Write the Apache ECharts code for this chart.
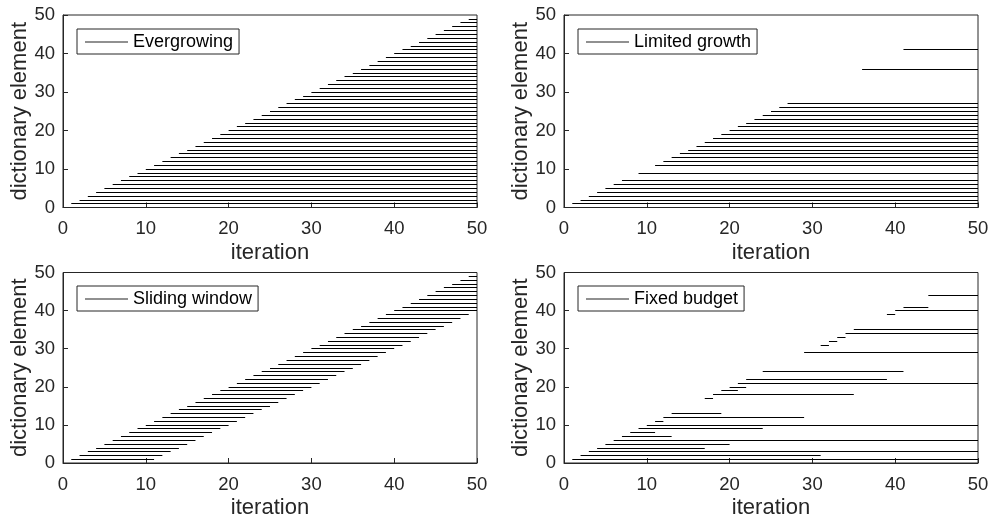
<!DOCTYPE html>
<html>
<head>
<meta charset="utf-8">
<script src="https://cdn.jsdelivr.net/npm/echarts@6/dist/echarts.min.js"></script>
<style>
html,body{margin:0;padding:0;background:#fff;}
#chart{width:992px;height:520px;}
</style>
</head>
<body>
<div id="chart"></div>
<script>
// ---- data ----
const panelTitles = ['Evergrowing', 'Limited growth', 'Sliding window', 'Fixed budget'];
const xTicks = [0, 10, 20, 30, 40, 50];
const yTicks = [0, 10, 20, 30, 40, 50];
const xLabel = 'iteration';
const yLabel = 'dictionary element';

// Evergrowing: element id, iteration it appears, iteration it ends
const evergrowingElements = [1,2,3,4,5,6,7,8,9,10,11,12,13,14,15,16,17,18,19,20,21,22,23,24,25,26,27,28,29,30,31,32,33,34,35,36,37,38,39,40,41,42,43,44,45,46,47,48,49];
const evergrowingStart    = [1,2,3,4,5,6,7,8,9,10,11,12,13,14,15,16,17,18,19,20,21,22,23,24,25,26,27,28,29,30,31,32,33,34,35,36,37,38,39,40,41,42,43,44,45,46,47,48,49];
const evergrowingEnd      = [50,50,50,50,50,50,50,50,50,50,50,50,50,50,50,50,50,50,50,50,50,50,50,50,50,50,50,50,50,50,50,50,50,50,50,50,50,50,50,50,50,50,50,50,50,50,50,50,50];

// Limited growth
const limitedElements = [1,2,3,4,5,6,7,9,11,12,13,14,15,16,17,18,19,20,21,22,23,24,25,26,27,36,41];
const limitedStart    = [1,2,3,4,5,6,7,9,11,12,13,14,15,16,17,18,19,20,21,22,23,24,25,26,27,36,41];
const limitedEnd      = [50,50,50,50,50,50,50,50,50,50,50,50,50,50,50,50,50,50,50,50,50,50,50,50,50,50,50];

// Sliding window
const slidingElements = [1,2,3,4,5,6,7,8,9,10,11,12,13,14,15,16,17,18,19,20,21,22,23,24,25,26,27,28,29,30,31,32,33,34,35,36,37,38,39,40,41,42,43,44,45,46,47,48,49];
const slidingStart    = [1,2,3,4,5,6,7,8,9,10,11,12,13,14,15,16,17,18,19,20,21,22,23,24,25,26,27,28,29,30,31,32,33,34,35,36,37,38,39,40,41,42,43,44,45,46,47,48,49];
const slidingEnd      = [11,12,13,14,15,16,17,18,19,20,21,22,23,24,25,26,27,28,29,30,31,32,33,34,35,36,37,38,39,40,41,42,43,44,45,46,47,48,49,50,50,50,50,50,50,50,50,50,50];

// Fixed budget
const fixedElements = [1,2,3,4,5,6,7,8,9,10,11,12,13,17,18,19,20,21,22,24,29,31,32,33,34,35,39,40,41,44];
const fixedStart    = [1,2,3,4,5,6,7,8,9,10,11,12,13,17,18,19,20,21,22,24,29,31,32,33,34,35,39,40,41,44];
const fixedEnd      = [50,31,50,17,20,50,13,11,24,50,12,29,19,18,35,21,22,50,39,41,50,32,33,34,50,50,40,50,44,50];

// ---- build ----
const FONT = '"Liberation Sans", Arial, Helvetica, sans-serif';
const AX = '#262626';
const panels = [
  {el: evergrowingElements, s: evergrowingStart, e: evergrowingEnd},
  {el: limitedElements, s: limitedStart, e: limitedEnd},
  {el: slidingElements, s: slidingStart, e: slidingEnd},
  {el: fixedElements, s: fixedStart, e: fixedEnd}
];
const gridPos = [
  {left: 63, top: 15, width: 414, height: 192.5},
  {left: 564, top: 15, width: 414, height: 192.5},
  {left: 63, top: 272.5, width: 414, height: 191.5},
  {left: 564, top: 272.5, width: 414, height: 191.5}
];
const legendPos = [
  {left: 77, top: 29},
  {left: 578, top: 29},
  {left: 77, top: 286},
  {left: 578, top: 286}
];

const grid = [], xAxis = [], yAxis = [], series = [], legend = [];
panels.forEach((p, i) => {
  grid.push(Object.assign({show: true, borderColor: AX, borderWidth: 1, backgroundColor: 'transparent'}, gridPos[i]));
  xAxis.push({
    type: 'value', gridIndex: i, min: xTicks[0], max: xTicks[xTicks.length - 1], interval: 10,
    name: xLabel, nameLocation: 'middle', nameGap: 34,
    nameTextStyle: {fontSize: 22, color: AX, fontFamily: FONT},
    axisLine: {show: true, lineStyle: {color: AX, width: 1}},
    axisTick: {show: true, inside: true, length: 5, lineStyle: {color: AX}},
    axisLabel: {fontSize: 18.5, color: AX, fontFamily: FONT, margin: 12},
    splitLine: {show: false}
  });
  yAxis.push({
    type: 'value', gridIndex: i, min: yTicks[0], max: yTicks[yTicks.length - 1], interval: 10,
    name: yLabel, nameLocation: 'middle', nameGap: 30,
    nameTextStyle: {fontSize: 22, color: AX, fontFamily: FONT},
    axisLine: {show: true, lineStyle: {color: AX, width: 1}},
    axisTick: {show: true, inside: true, length: 5, lineStyle: {color: AX}},
    axisLabel: {fontSize: 18.5, color: AX, fontFamily: FONT, margin: 8},
    splitLine: {show: false}
  });
  const data = p.el.map((k, j) => ({coords: [[p.s[j], k], [p.e[j], k]]}));
  series.push({
    type: 'lines', name: panelTitles[i], coordinateSystem: 'cartesian2d',
    xAxisIndex: i, yAxisIndex: i, silent: true, polyline: false,
    lineStyle: {color: '#000', width: 1, opacity: 1},
    itemStyle: {color: '#000'},
    effect: {show: false},
    data: data
  });
  legend.push(Object.assign({
    data: [{name: panelTitles[i], icon: 'rect'}],
    orient: 'horizontal', selectedMode: false,
    backgroundColor: '#fff', borderColor: AX, borderWidth: 1, borderRadius: 0,
    padding: [4, 6, 3, 8], itemWidth: 43, itemHeight: 1, itemGap: 0,
    itemStyle: {color: '#222', borderWidth: 0},
    lineStyle: {width: 0},
    textStyle: {fontSize: 18, color: '#000', fontFamily: FONT}
  }, legendPos[i]));
});

const chart = echarts.init(document.getElementById('chart'), null, {renderer: 'canvas'});
chart.setOption({animation: false, backgroundColor: '#fff', grid, xAxis, yAxis, series, legend});
</script>
</body>
</html>
